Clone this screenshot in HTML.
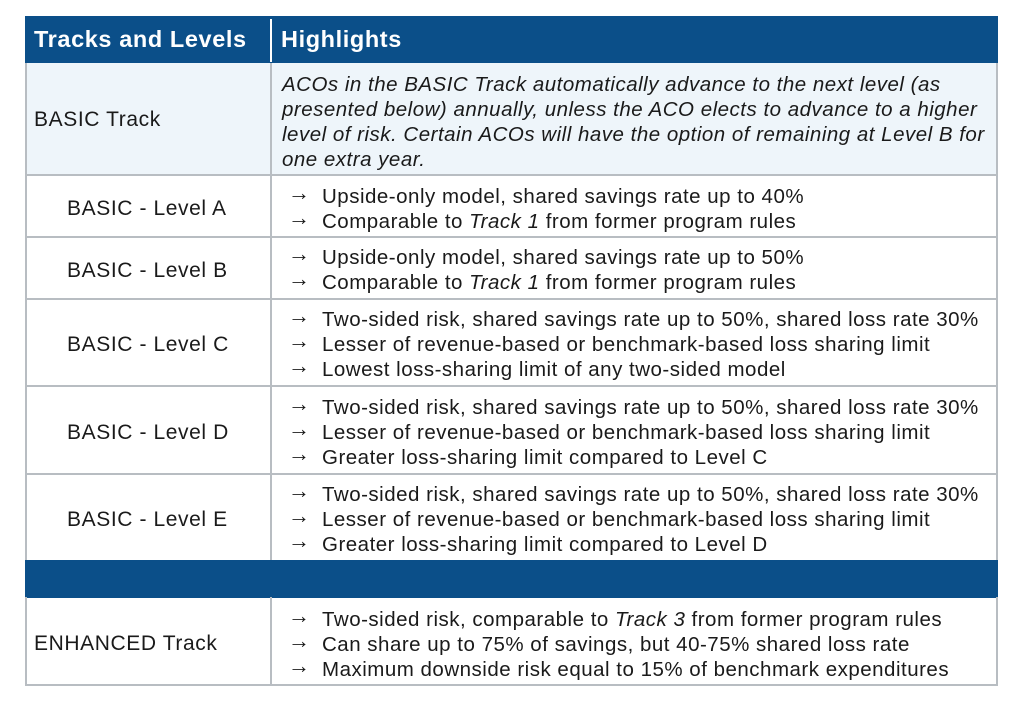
<!DOCTYPE html>
<html><head><style>
body{margin:0;width:1024px;height:702px;background:#fff;font-family:"Liberation Sans",sans-serif;color:#1a1a1a;position:relative;overflow:hidden}
.a{position:absolute}
.box{position:absolute;left:25px;width:973px;border:1px solid #b8bdc2;box-sizing:border-box}
.l{position:absolute;font-size:21px;letter-spacing:0.6px;white-space:nowrap}
.r{position:absolute;left:288px;font-size:20.5px;letter-spacing:0.5px;line-height:25px;white-space:nowrap}
.r b{font-weight:normal;display:inline-block;width:34px;font-size:22px;letter-spacing:0;position:relative;top:-3px;line-height:20px}
.vl{position:absolute;left:270px;width:2px;background:#b8bdc2}
</style></head><body>
<div class="a" style="left:25px;top:16px;width:973px;height:47px;background:#0b4f89"></div>
<div class="a" style="left:270px;top:19px;width:2px;height:43px;background:#fff"></div>
<div class="l" style="left:34px;top:26px;color:#fff;font-weight:bold;font-size:23.5px;letter-spacing:0.6px">Tracks and Levels</div>
<div class="l" style="left:281px;top:26px;color:#fff;font-weight:bold;font-size:23.5px;letter-spacing:0.6px">Highlights</div>

<div class="box" style="top:63px;height:113px;background:#eef5fa;border-width:0 2px 2px 2px"></div>
<div class="l" style="left:34px;top:108px">BASIC Track</div>
<div class="r" style="left:282px;top:72px;font-style:italic">ACOs in the BASIC Track automatically advance to the next level (as<br>presented below) annually, unless the ACO elects to advance to a higher<br>level of risk. Certain ACOs will have the option of remaining at Level B for<br>one extra year.</div>

<div class="box" style="top:174px;height:64px;border-width:0 2px 2px 2px"></div>
<div class="l" style="left:67px;top:197px">BASIC - Level A</div>
<div class="r" style="top:184px"><b>→</b>Upside-only model, shared savings rate up to 40%<br><b>→</b>Comparable to <i>Track 1</i> from former program rules</div>

<div class="box" style="top:236px;height:64px;border-width:0 2px 2px 2px"></div>
<div class="l" style="left:67px;top:259px">BASIC - Level B</div>
<div class="r" style="top:245px"><b>→</b>Upside-only model, shared savings rate up to 50%<br><b>→</b>Comparable to <i>Track 1</i> from former program rules</div>

<div class="box" style="top:298px;height:89px;border-width:0 2px 2px 2px"></div>
<div class="l" style="left:67px;top:333px">BASIC - Level C</div>
<div class="r" style="top:307px"><b>→</b>Two-sided risk, shared savings rate up to 50%, shared loss rate 30%<br><b>→</b>Lesser of revenue-based or benchmark-based loss sharing limit<br><b>→</b>Lowest loss-sharing limit of any two-sided model</div>

<div class="box" style="top:385px;height:90px;border-width:0 2px 2px 2px"></div>
<div class="l" style="left:67px;top:421px">BASIC - Level D</div>
<div class="r" style="top:395px"><b>→</b>Two-sided risk, shared savings rate up to 50%, shared loss rate 30%<br><b>→</b>Lesser of revenue-based or benchmark-based loss sharing limit<br><b>→</b>Greater loss-sharing limit compared to Level C</div>

<div class="box" style="top:473px;height:89px;border-width:0 2px 2px 2px"></div>
<div class="l" style="left:67px;top:508px">BASIC - Level E</div>
<div class="r" style="top:482px"><b>→</b>Two-sided risk, shared savings rate up to 50%, shared loss rate 30%<br><b>→</b>Lesser of revenue-based or benchmark-based loss sharing limit<br><b>→</b>Greater loss-sharing limit compared to Level D</div>

<div class="vl" style="top:63px;height:497px"></div>
<div class="a" style="left:25px;top:560px;width:973px;height:38px;background:#0b4f89"></div>

<div class="box" style="top:597px;height:89px;border-width:0 2px 2px 2px"></div>
<div class="vl" style="top:597px;height:88px"></div>
<div class="l" style="left:34px;top:632px">ENHANCED Track</div>
<div class="r" style="top:607px"><b>→</b>Two-sided risk, comparable to <i>Track 3</i> from former program rules<br><b>→</b>Can share up to 75% of savings, but 40-75% shared loss rate<br><b>→</b>Maximum downside risk equal to 15% of benchmark expenditures</div>
</body></html>
